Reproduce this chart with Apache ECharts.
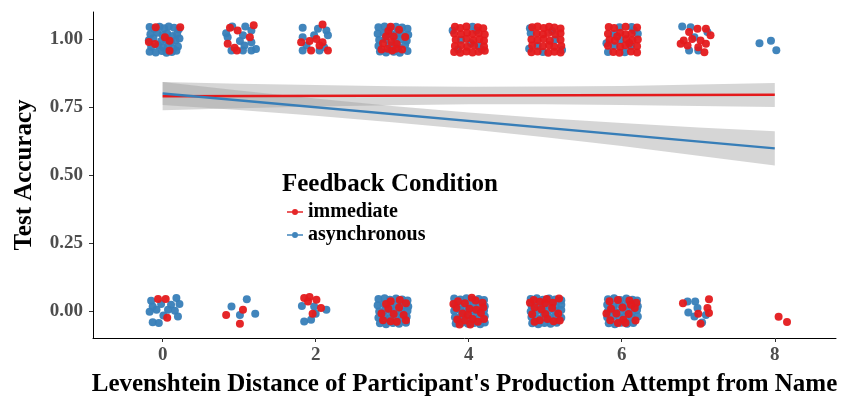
<!DOCTYPE html>
<html>
<head>
<meta charset="utf-8">
<script src="https://cdn.jsdelivr.net/npm/echarts@6/dist/echarts.min.js"></script>
<style>html,body{margin:0;padding:0;background:#fff}#c{width:857px;height:396px}</style>
</head>
<body>
<div id="c"></div>
<script>
// ---- data ----
const xTicks = [0, 2, 4, 6, 8];
const yTicks = [0, 0.25, 0.5, 0.75, 1];
const seriesNames = ['immediate', 'asynchronous'];

const immediatePoints = [
  [-0.09,1.044],[0.23,1.044],[-0.18,0.990],[-0.10,0.982],[0.09,0.994],[0.09,0.957],[0.03,1.007],
  [0.88,1.042],[1.19,1.051],[0.98,1.032],[1.14,1.007],[0.85,0.983],[0.94,0.968],[0.97,0.958],
  [2.09,1.054],[1.92,0.993],[2.01,1.001],[2.09,0.989],[2.05,0.977],[1.94,0.958],[2.16,0.958],[1.81,0.989],
  [2.95,1.030],[3.02,1.010],[3.09,1.035],[2.88,0.985],[2.99,0.990],[3.06,0.982],[2.86,0.962],[2.94,0.965],[3.13,0.962],[3.00,0.958],[3.17,1.008],[2.92,1.010],[3.05,0.965],[2.98,1.046],
  [3.82,1.046],[3.89,1.041],[3.97,1.047],[4.12,1.044],[4.19,1.040],
  [3.81,1.021],[3.90,1.018],[3.98,1.024],[4.05,1.019],[4.13,1.022],[4.21,1.017],
  [3.83,0.998],[3.97,1.001],[4.06,0.996],[4.14,1.000],[4.20,0.994],
  [3.82,0.975],[3.90,0.978],[3.98,0.972],[4.07,0.977],[4.20,0.973],
  [3.81,0.953],[3.89,0.950],[3.97,0.955],[4.05,0.951],[4.13,0.954],[4.21,0.957],
  [4.83,1.044],[4.90,1.047],[4.98,1.041],[5.05,1.046],[5.12,1.043],[5.20,1.039],
  [4.89,1.021],[4.97,1.018],[5.04,1.023],[5.13,1.017],[5.20,1.022],
  [4.82,0.999],[4.90,0.996],[4.98,1.001],[5.06,0.994],[5.20,0.998],
  [4.83,0.977],[4.97,0.974],[5.05,0.978],[5.12,0.972],[5.21,0.975],
  [4.82,0.952],[4.90,0.955],[5.04,0.950],[5.12,0.954],[5.20,0.951],
  [5.83,1.045],[5.90,1.041],[6.05,1.046],[6.20,1.043],
  [5.82,1.020],[5.98,1.024],[6.05,1.017],[6.13,1.021],
  [5.84,0.998],[5.91,0.994],[6.06,1.000],[6.14,0.996],[6.21,0.999],
  [5.82,0.976],[5.98,0.972],[6.05,0.978],[6.20,0.974],
  [5.89,0.953],[5.97,0.950],[6.12,0.955],[6.20,0.951],[5.94,1.010],[6.10,0.985],
  [6.99,1.038],[7.10,1.038],[7.16,1.014],[6.88,1.026],[6.81,0.995],[6.92,1.001],[7.03,0.995],[7.10,0.983],[6.86,0.977],[7.00,0.970],[7.08,0.952],[6.77,0.983],
  [-0.06,0.044],[0.04,0.044],[0.06,-0.025],
  [1.05,0.004],[0.83,-0.015],[1.01,-0.048],
  [1.85,0.047],[1.92,0.051],[1.90,0.034],[2.01,0.041],[2.07,0.010],[1.96,-0.011],
  [2.98,0.035],[3.10,0.040],[3.18,0.028],[2.86,-0.010],[2.95,0.008],[3.02,-0.012],[3.09,0.012],[2.88,-0.035],[2.98,-0.038],[3.15,-0.015],[3.06,-0.040],[3.18,-0.035],[2.92,0.025],
  [3.86,0.035],[3.95,0.028],[4.09,0.038],[4.18,0.030],[3.84,0.010],[4.01,0.008],[4.10,0.004],[4.19,0.012],[3.92,-0.010],[3.99,-0.015],[4.16,-0.008],[3.85,-0.032],[3.95,-0.036],[4.05,-0.030],[4.12,-0.040],[4.20,-0.030],[3.88,-0.050],[4.02,-0.050],[3.80,0.025],[4.04,0.048],
  [4.85,0.040],[4.93,0.033],[5.02,0.044],[5.10,0.030],[5.18,0.045],[4.86,0.012],[4.95,0.006],[5.09,0.010],[4.83,-0.013],[5.00,-0.012],[5.17,-0.010],[4.93,-0.035],[5.03,-0.030],[5.11,-0.038],[4.86,-0.040],[5.19,-0.036],[5.00,0.028],[4.80,0.030],
  [5.84,0.035],[5.95,0.040],[6.10,0.038],[6.19,0.030],[5.86,0.008],[6.01,0.012],[6.17,0.010],[5.93,-0.010],[6.09,-0.012],[5.85,-0.035],[6.02,-0.033],[6.18,-0.036],[5.95,-0.045],[6.12,0.022],[5.80,-0.010],[6.05,-0.045],
  [6.80,0.028],[7.14,0.043],[7.12,0.010],[7.14,-0.008],[7.00,-0.011],[7.03,-0.048],
  [8.05,-0.022],[8.16,-0.041]
];

const asynchronousPoints = [
  [-0.17,1.045],[-0.11,1.038],[-0.04,1.046],[0.02,1.040],[0.08,1.047],[0.15,1.042],[0.21,1.036],
  [-0.16,1.018],[-0.07,1.024],[0.00,1.015],[0.06,1.021],[0.13,1.012],[0.19,1.019],
  [-0.18,0.996],[-0.12,1.003],[-0.02,0.992],[0.04,0.998],[0.11,0.989],[0.17,0.995],[0.22,1.002],
  [-0.15,0.972],[-0.06,0.978],[0.01,0.969],[0.07,0.975],[0.14,0.966],[0.20,0.973],
  [-0.17,0.954],[-0.09,0.951],[-0.01,0.956],[0.05,0.950],[0.12,0.953],[0.18,0.957],
  [0.91,1.047],[1.08,1.047],[1.16,1.032],[0.83,1.022],[0.85,1.007],[1.05,1.014],[1.01,0.993],[1.16,0.989],[1.07,0.977],[0.90,0.958],[1.05,0.958],[1.22,0.964],[1.16,0.958],
  [1.83,1.042],[2.03,1.038],[2.14,1.032],[2.16,1.014],[1.83,1.007],[1.88,0.977],[1.83,0.958],[2.05,0.958],[1.98,1.014],[2.11,0.970],
  [2.82,1.044],[2.90,1.047],[2.97,1.041],[3.05,1.046],[3.13,1.043],[3.20,1.038],
  [2.81,1.020],[2.89,1.024],[2.98,1.017],[3.06,1.023],[3.12,1.019],[3.21,1.016],
  [2.83,0.997],[2.91,1.001],[3.04,0.995],[3.11,1.000],[3.19,0.994],
  [2.82,0.975],[2.96,0.978],[3.08,0.972],[3.17,0.979],
  [2.84,0.955],[2.92,0.951],[3.02,0.954],[3.10,0.950],[3.20,0.956],
  [4.05,1.046],[3.90,0.998],[4.13,0.975],[3.86,0.962],[4.03,0.985],[4.17,0.962],[3.79,1.032],[4.10,1.032],
  [4.81,1.022],[5.13,0.998],[4.90,0.975],[4.97,0.953],[4.79,0.965],[5.22,0.960],[5.09,1.030],[4.80,1.040],
  [5.97,1.044],[6.13,1.045],[5.90,1.019],[6.21,1.020],[5.98,0.997],[5.90,0.975],[6.12,0.974],[5.82,0.953],[6.04,0.952],[5.80,0.985],[6.16,1.033],
  [6.79,1.047],[6.90,1.044],[7.12,1.026],[6.95,1.007],[6.88,0.958],[7.00,0.958],
  [7.80,0.985],[7.95,0.994],[8.02,0.959],
  [-0.15,0.037],[0.18,0.047],[-0.13,0.016],[-0.02,0.025],[0.11,0.022],[0.22,0.025],[-0.08,0.004],[0.07,0.004],[0.16,0.000],[0.20,-0.021],[0.01,-0.017],[-0.13,-0.042],[-0.05,-0.045],[-0.17,-0.003],
  [1.10,0.043],[0.90,0.016],[1.01,-0.015],[1.21,-0.011],
  [1.82,0.018],[1.98,0.016],[2.14,0.004],[2.00,-0.011],[1.85,-0.039],[1.94,-0.033],
  [2.82,0.044],[2.90,0.046],[2.97,0.041],[3.05,0.045],[3.13,0.042],[3.20,0.038],
  [2.81,0.021],[2.89,0.024],[2.98,0.018],[3.06,0.022],[3.13,0.019],[3.21,0.016],
  [2.83,-0.002],[2.91,0.002],[2.99,-0.004],[3.05,0.001],[3.12,-0.003],[3.20,0.000],
  [2.82,-0.025],[2.90,-0.021],[2.97,-0.027],[3.06,-0.023],[3.13,-0.026],[3.19,-0.022],
  [2.84,-0.046],[2.92,-0.049],[3.01,-0.045],[3.09,-0.048],[3.18,-0.044],
  [3.81,0.045],[3.89,0.042],[3.97,0.046],[4.05,0.041],[4.13,0.044],[4.20,0.040],
  [3.82,0.021],[3.90,0.018],[3.98,0.023],[4.06,0.019],[4.14,0.022],[4.21,0.017],
  [3.81,-0.001],[3.89,0.003],[3.97,-0.003],[4.05,0.002],[4.13,-0.002],[4.20,0.001],
  [3.82,-0.024],[3.90,-0.021],[3.98,-0.026],[4.06,-0.022],[4.14,-0.025],[4.21,-0.020],
  [3.83,-0.047],[3.91,-0.044],[3.99,-0.048],[4.07,-0.045],[4.15,-0.049],[4.21,-0.043],
  [4.81,0.044],[4.89,0.046],[4.97,0.041],[5.05,0.045],[5.13,0.042],[5.21,0.039],
  [4.82,0.020],[4.90,0.023],[4.98,0.018],[5.06,0.021],[5.14,0.017],[5.21,0.022],
  [4.81,-0.002],[4.89,0.001],[4.97,-0.003],[5.05,0.002],[5.13,-0.001],[5.21,0.003],
  [4.82,-0.023],[4.90,-0.026],[4.98,-0.021],[5.06,-0.024],[5.14,-0.020],[5.21,-0.025],
  [4.83,-0.046],[4.91,-0.049],[4.99,-0.045],[5.07,-0.048],[5.15,-0.044],
  [5.82,0.043],[5.90,0.046],[5.98,0.040],[6.06,0.045],[6.14,0.041],[6.20,0.038],
  [5.81,0.022],[5.89,0.018],[5.97,0.024],[6.05,0.019],[6.13,0.023],[6.21,0.017],
  [5.82,-0.001],[5.90,0.002],[5.98,-0.004],[6.06,0.001],[6.14,-0.002],[6.20,0.003],
  [5.81,-0.024],[5.89,-0.020],[5.97,-0.026],[6.05,-0.022],[6.13,-0.025],[6.21,-0.021],
  [5.83,-0.046],[5.91,-0.049],[5.99,-0.044],[6.07,-0.048],[6.15,-0.045],
  [6.86,0.034],[6.96,0.034],[6.99,0.010],[6.87,-0.006],[6.95,-0.021],[7.05,-0.043],[7.10,-0.015]
];

// regression fits
const fitX = [0, 8];
const immediateFit = [0.790, 0.795];
const asynchronousFit = [0.800, 0.598];

// confidence bands
const bandX = [0, 1, 2, 3, 4, 5, 6, 7, 8];
const immediateLo = [0.738, 0.746, 0.752, 0.757, 0.760, 0.760, 0.758, 0.754, 0.750];
const immediateHi = [0.842, 0.836, 0.831, 0.827, 0.825, 0.826, 0.828, 0.833, 0.839];
const asynchronousLo = [0.758, 0.739, 0.718, 0.694, 0.668, 0.639, 0.607, 0.571, 0.535];
const asynchronousHi = [0.842, 0.811, 0.782, 0.754, 0.730, 0.709, 0.691, 0.675, 0.661];

// ---- chart ----
const RED = '#E41A1C', BLUE = '#377EB8';
const F = "'Liberation Serif', 'Times New Roman', serif";

function bandRenderer(lo, hi) {
  return function (params, api) {
    if (params.dataIndex !== 0) return null;
    const top = bandX.map((x, i) => api.coord([x, hi[i]]));
    const bot = bandX.map((x, i) => api.coord([x, lo[i]])).reverse();
    return { type: 'polygon', shape: { points: top.concat(bot) }, style: { fill: 'rgba(153,153,153,0.4)' } };
  };
}

const legendIcon = 'path://M0,3.2H5.5V4.8H0Z M10.5,3.2H16V4.8H10.5Z M5,4A3,3 0 1,1 11,4A3,3 0 1,1 5,4Z';

const chart = echarts.init(document.getElementById('c'), null, { renderer: 'canvas' });
chart.setOption({
  animation: false,
  backgroundColor: '#fff',
  title: {
    text: 'Feedback Condition', left: 282, top: 172, padding: 0,
    textStyle: { fontFamily: F, fontSize: 25, fontWeight: 'bold', color: '#000' }
  },
  legend: {
    orient: 'vertical', left: 287, top: 202, padding: 0, itemGap: 3, itemWidth: 16, itemHeight: 6,
    data: [
      { name: seriesNames[0], icon: legendIcon, itemStyle: { color: RED } },
      { name: seriesNames[1], icon: legendIcon, itemStyle: { color: BLUE } }
    ],
    itemStyle: { borderWidth: 0 },
    lineStyle: { width: 0 },
    textStyle: { fontFamily: F, fontSize: 20, fontWeight: 'bold', color: '#000' },
    selectedMode: false
  },
  grid: { left: 93, right: 21, top: 12, bottom: 58, containLabel: false, outerBoundsMode: 'none' },
  xAxis: {
    type: 'value', min: -0.91, max: 8.8,
    axisLine: { onZero: false, lineStyle: { color: '#000', width: 1 } },
    axisTick: { show: true, length: 4, lineStyle: { color: '#333' }, customValues: xTicks },
    axisLabel: { customValues: xTicks, color: '#4d4d4d', fontSize: 19, fontWeight: 'bold', fontFamily: F, margin: 8 },
    splitLine: { show: false },
    name: "Levenshtein Distance of Participant's Production Attempt from Name",
    nameLocation: 'middle', nameGap: 34,
    nameTextStyle: { fontFamily: F, fontSize: 25, fontWeight: 'bold', color: '#000' }
  },
  yAxis: {
    type: 'value', min: -0.1, max: 1.1,
    axisLine: { onZero: false, lineStyle: { color: '#000', width: 1 } },
    axisTick: { show: true, length: 4, lineStyle: { color: '#333' }, customValues: yTicks },
    axisLabel: { customValues: yTicks, color: '#4d4d4d', fontSize: 19, fontWeight: 'bold', fontFamily: F, margin: 10,
      formatter: v => v.toFixed(2) },
    splitLine: { show: false },
    name: 'Test Accuracy', nameLocation: 'middle', nameGap: 56, nameRotate: 90,
    nameTextStyle: { fontFamily: F, fontSize: 25, fontWeight: 'bold', color: '#000' }
  },
  series: [
    { type: 'custom', name: 'bandImm', silent: true, z: 1, renderItem: bandRenderer(immediateLo, immediateHi),
      data: bandX.map((x, i) => [x, immediateLo[i], immediateHi[i]]), encode: { x: 0, y: [1, 2] } },
    { type: 'custom', name: 'bandAsync', silent: true, z: 1, renderItem: bandRenderer(asynchronousLo, asynchronousHi),
      data: bandX.map((x, i) => [x, asynchronousLo[i], asynchronousHi[i]]), encode: { x: 0, y: [1, 2] } },
    { type: 'scatter', name: seriesNames[1], z: 2, symbolSize: 8, itemStyle: { color: BLUE, opacity: 0.95 },
      data: asynchronousPoints },
    { type: 'scatter', name: seriesNames[0], z: 3, symbolSize: 8, itemStyle: { color: RED, opacity: 0.95 },
      data: immediatePoints },
    { type: 'line', name: seriesNames[0], z: 4, showSymbol: false, color: RED, lineStyle: { color: RED, width: 2.5 },
      data: fitX.map((x, i) => [x, immediateFit[i]]) },
    { type: 'line', name: seriesNames[1], z: 4, showSymbol: false, color: BLUE, lineStyle: { color: BLUE, width: 2.5 },
      data: fitX.map((x, i) => [x, asynchronousFit[i]]) }
  ]
});
</script>
</body>
</html>
